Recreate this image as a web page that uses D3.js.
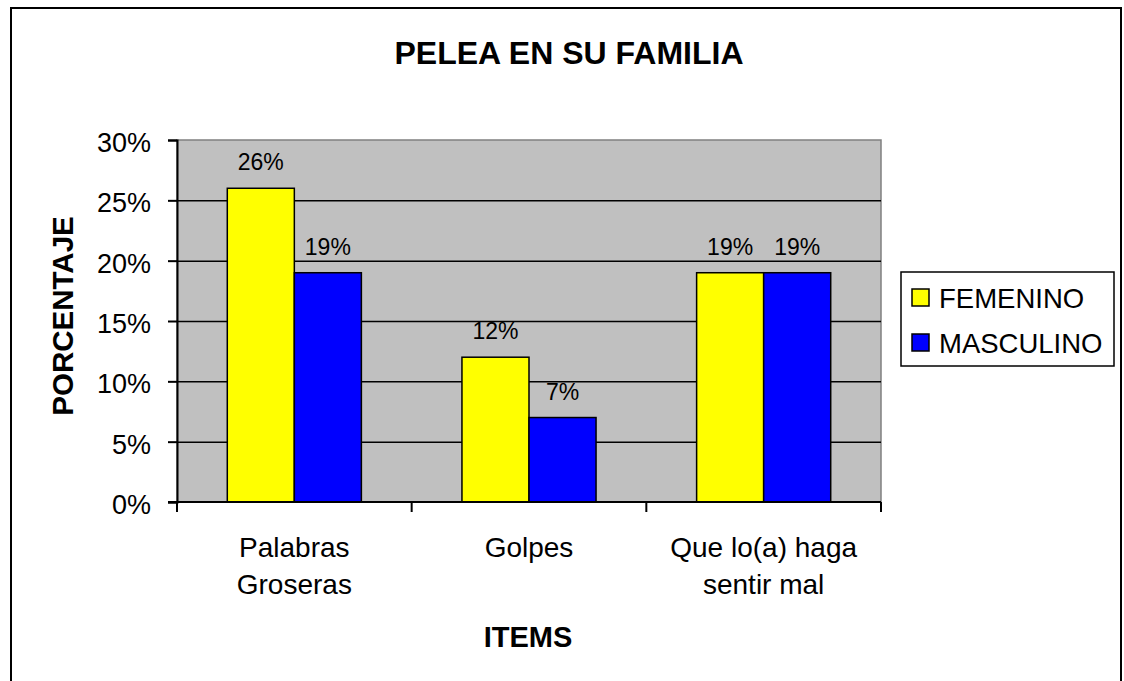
<!DOCTYPE html>
<html>
<head>
<meta charset="utf-8">
<script src="https://cdn.jsdelivr.net/npm/d3@7"></script>
<style>
  body { margin: 0; background: #fff; }
  text { font-family: "Liberation Sans", Arial, sans-serif; fill: #000; }
</style>
</head>
<body>
<div id="chart"></div>
<script>
// data
var categories = ["Palabras Groseras", "Golpes", "Que lo(a) haga sentir mal"];
var categoryLines = [["Palabras", "Groseras"], ["Golpes"], ["Que lo(a) haga", "sentir mal"]];
var series = ["FEMENINO", "MASCULINO"];
var femenino = [0.26, 0.12, 0.19];
var masculino = [0.19, 0.07, 0.19];
var yTicks = [0, 0.05, 0.10, 0.15, 0.20, 0.25, 0.30];

var colours = { "FEMENINO": "#ffff00", "MASCULINO": "#0000ff" };

var w = 1124, h = 681;
var plot = { left: 177, top: 140, right: 881, bottom: 502 };

var svg = d3.select("#chart").append("svg")
    .attr("width", w)
    .attr("height", h);

// outer chart frame (bottom edge runs off the picture)
svg.append("rect")
    .attr("x", 11).attr("y", 8)
    .attr("width", 1110).attr("height", 700)
    .attr("fill", "#fff")
    .attr("stroke", "#000")
    .attr("stroke-width", 2);

var x0 = d3.scaleBand()
    .domain(categories)
    .range([plot.left, plot.right])
    .padding(0);

var x1 = d3.scaleBand()
    .domain(series)
    .range([0, x0.bandwidth()])
    .paddingInner(0)
    .paddingOuter(0.75);

var y = d3.scaleLinear()
    .domain([0, 0.30])
    .range([plot.bottom, plot.top]);

// plot background
svg.append("rect")
    .attr("x", plot.left).attr("y", plot.top)
    .attr("width", plot.right - plot.left)
    .attr("height", plot.bottom - plot.top)
    .attr("fill", "#c0c0c0")
    .attr("stroke", "#808080")
    .attr("stroke-width", 1.5);

// gridlines
var grid = svg.append("g")
    .attr("transform", "translate(" + plot.left + ",0)")
    .call(d3.axisLeft(y).tickValues(yTicks).tickSize(-(plot.right - plot.left)).tickFormat(""));
grid.select(".domain").remove();
grid.selectAll("line")
    .filter(function(d) { return d > 0 && d < 0.30; })
    .attr("stroke", "#000")
    .attr("stroke-width", 1.5);
grid.selectAll("line")
    .filter(function(d) { return d == 0 || d == 0.30; })
    .remove();

// bars
var rows = categories.map(function(c, i) {
    return { cat: c, values: [
        { key: "FEMENINO", value: femenino[i] },
        { key: "MASCULINO", value: masculino[i] }
    ] };
});

var groups = svg.selectAll(".group")
    .data(rows)
    .enter()
    .append("g")
    .attr("class", "group")
    .attr("transform", function(d) { return "translate(" + x0(d.cat) + ",0)"; });

groups.selectAll("rect")
    .data(function(d) { return d.values; })
    .enter()
    .append("rect")
    .attr("x", function(d) { return x1(d.key); })
    .attr("y", function(d) { return y(d.value); })
    .attr("width", x1.bandwidth())
    .attr("height", function(d) { return y(0) - y(d.value); })
    .attr("fill", function(d) { return colours[d.key]; })
    .attr("stroke", "#000")
    .attr("stroke-width", 1.5);

// value labels
groups.selectAll(".val")
    .data(function(d) { return d.values; })
    .enter()
    .append("text")
    .attr("class", "val")
    .attr("x", function(d) { return x1(d.key) + x1.bandwidth() / 2; })
    .attr("y", function(d) { return y(d.value) - 18; })
    .attr("text-anchor", "middle")
    .attr("font-size", "23px")
    .text(function(d) { return Math.round(d.value * 100) + "%"; });

// y axis
var yAxis = svg.append("g")
    .attr("transform", "translate(" + plot.left + ",0)")
    .call(d3.axisLeft(y)
        .tickValues(yTicks)
        .tickSize(9)
        .tickPadding(17)
        .tickFormat(d3.format(".0%")));
yAxis.select(".domain").attr("stroke", "#000").attr("stroke-width", 2);
yAxis.selectAll("line").attr("stroke", "#000").attr("stroke-width", 2);
yAxis.selectAll("text")
    .attr("font-size", "27px")
    .attr("dy", "0.42em")
    .style("font-family", "'Liberation Sans', Arial, sans-serif");

// x axis line and boundary ticks
svg.append("line")
    .attr("x1", plot.left - 9).attr("x2", plot.right)
    .attr("y1", y(0)).attr("y2", y(0))
    .attr("stroke", "#000").attr("stroke-width", 2);

var boundaries = categories.map(function(c) { return x0(c); })
    .concat([x0(categories[categories.length - 1]) + x0.bandwidth()]);

svg.selectAll(".xtick")
    .data(boundaries)
    .enter()
    .append("line")
    .attr("class", "xtick")
    .attr("x1", function(d) { return d; })
    .attr("x2", function(d) { return d; })
    .attr("y1", y(0))
    .attr("y2", y(0) + 10)
    .attr("stroke", "#000")
    .attr("stroke-width", 2);

// category labels
var catLabels = svg.selectAll(".cat")
    .data(categories)
    .enter()
    .append("text")
    .attr("class", "cat")
    .attr("text-anchor", "middle")
    .attr("font-size", "28px");

catLabels.selectAll("tspan")
    .data(function(d, i) { return categoryLines[i].map(function(l) { return { line: l, cat: d }; }); })
    .enter()
    .append("tspan")
    .attr("x", function(d) { return x0(d.cat) + x0.bandwidth() / 2; })
    .attr("y", function(d, i) { return 557 + i * 37; })
    .text(function(d) { return d.line; });

// titles
svg.append("text")
    .attr("x", 569).attr("y", 64)
    .attr("text-anchor", "middle")
    .attr("font-size", "32px")
    .attr("font-weight", "bold")
    .text("PELEA EN SU FAMILIA");

svg.append("text")
    .attr("x", 528).attr("y", 647)
    .attr("text-anchor", "middle")
    .attr("font-size", "29px")
    .attr("font-weight", "bold")
    .text("ITEMS");

svg.append("text")
    .attr("transform", "translate(73,316) rotate(-90)")
    .attr("text-anchor", "middle")
    .attr("font-size", "29.5px")
    .attr("font-weight", "bold")
    .text("PORCENTAJE");

// legend
var legend = svg.append("g").attr("transform", "translate(901,272)");
legend.append("rect")
    .attr("width", 213).attr("height", 94)
    .attr("fill", "#fff")
    .attr("stroke", "#000")
    .attr("stroke-width", 1.5);

var items = legend.selectAll(".item")
    .data(series)
    .enter()
    .append("g")
    .attr("class", "item")
    .attr("transform", function(d, i) { return "translate(0," + (26 + i * 45) + ")"; });

items.append("rect")
    .attr("x", 11).attr("y", -9)
    .attr("width", 17).attr("height", 17)
    .attr("fill", function(d) { return colours[d]; })
    .attr("stroke", "#000")
    .attr("stroke-width", 1.5);

items.append("text")
    .attr("x", 38).attr("y", 10)
    .attr("font-size", "27.5px")
    .text(function(d) { return d; });
</script>
</body>
</html>
